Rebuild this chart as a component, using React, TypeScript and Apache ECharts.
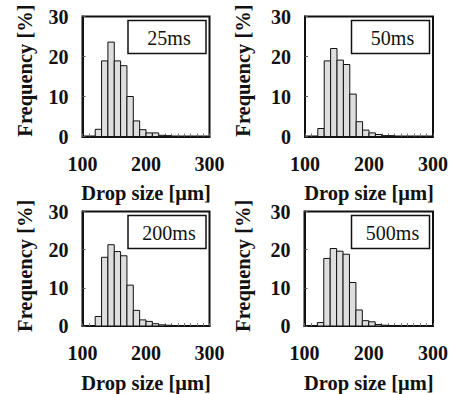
import React, { useEffect, useRef } from "react";
import * as echarts from "echarts";

const binStarts = [120, 130, 140, 150, 160, 170, 180, 190, 200, 210, 220, 230];
const binWidth = 10;
const panelLabels = ["25ms", "50ms", "200ms", "500ms"];
const freq25 = [1.8, 18.9, 23.6, 18.9, 17.7, 10.0, 3.9, 1.7, 0.9, 0.9, 0.3, 0.2];
const freq50 = [2.0, 18.9, 22.0, 19.1, 18.0, 10.6, 3.7, 1.6, 0.9, 0.5, 0.2, 0.2];
const freq200 = [2.5, 18.0, 21.3, 19.5, 18.4, 10.7, 4.1, 1.6, 1.2, 0.6, 0.3, 0.2];
const freq500 = [0.9, 17.7, 20.3, 19.6, 18.8, 11.4, 4.2, 1.4, 1.1, 0.4, 0.2, 0.1];
const xTicks = { min: 100, max: 300, interval: 100 };
const yTicks = { min: 0, max: 30, interval: 10 };
const xTitle = "Drop size [μm]";
const yTitle = "Frequency [%]";

const FONT = "Liberation Serif";

const grids = [
  { left: 82.5, top: 16.5, width: 127, height: 120 },
  { left: 305, top: 16.5, width: 128, height: 120 },
  { left: 82.5, top: 211.5, width: 127, height: 120.5 },
  { left: 304.5, top: 211.5, width: 128.5, height: 120.5 },
];

export default function App() {
  const ref = useRef<HTMLDivElement>(null);
  useEffect(() => {
    if (!ref.current) return;
    const chart = echarts.init(ref.current, null, { renderer: "svg" });
    const allData = [freq25, freq50, freq200, freq500];

    const xAxis = grids.map((_, i) => ({
      type: "value",
      gridIndex: i,
      min: xTicks.min,
      max: xTicks.max,
      interval: xTicks.interval,
      axisLine: { show: true, onZero: false, lineStyle: { color: "#111", width: 2 } },
      axisTick: { show: true, inside: true, length: 3, lineStyle: { color: "#555" } },
      minorTick: { show: true, splitNumber: 10, length: 3, lineStyle: { color: "#777" } },
      splitLine: { show: false },
      axisLabel: {
        margin: 17,
        fontFamily: FONT,
        fontWeight: "bold",
        fontSize: 20,
        color: "#111",
      },
      name: xTitle,
      nameLocation: "middle",
      nameGap: 46,
      nameTextStyle: { fontFamily: FONT, fontWeight: "bold", fontSize: 20.5, color: "#111" },
    }));

    const yAxis = grids.map((_, i) => ({
      type: "value",
      gridIndex: i,
      min: yTicks.min,
      max: yTicks.max,
      interval: yTicks.interval,
      axisLine: { show: true, lineStyle: { color: "#111", width: 2 } },
      axisTick: { show: true, inside: true, length: 3, lineStyle: { color: "#555" } },
      splitLine: { show: false },
      axisLabel: {
        margin: 14,
        fontFamily: FONT,
        fontWeight: "bold",
        fontSize: 20,
        color: "#111",
      },
    }));

    const series = allData.map((vals, i) => ({
      type: "custom",
      xAxisIndex: i,
      yAxisIndex: i,
      data: vals.map((v, k) => [binStarts[k], binStarts[k] + binWidth, v]),
      encode: { x: [0, 1], y: 2 },
      renderItem: (params: any, api: any) => {
        const p0 = api.coord([api.value(0), api.value(2)]);
        const p1 = api.coord([api.value(1), 0]);
        return {
          type: "rect",
          shape: { x: p0[0], y: p0[1], width: p1[0] - p0[0], height: p1[1] - p0[1] },
          style: { fill: "#dedede", stroke: "#111", lineWidth: 1 },
        };
      },
    }));

    const graphic: any[] = [];
    grids.forEach((g, i) => {
      const isLeftCol = i % 2 === 0;
      graphic.push({
        type: "text",
        x: isLeftCol ? 25 : 243,
        y: g.top + g.height / 2 - 6,
        rotation: Math.PI / 2,
        style: {
          text: yTitle,
          fontFamily: FONT,
          fontWeight: "bold",
          fontSize: 20.5,
          fill: "#111",
          align: "center",
          verticalAlign: "middle",
        },
      });
      const bw = 78;
      const bh = 33;
      const bx = g.left + g.width - 3.5 - bw;
      const by = g.top + 4;
      graphic.push({
        type: "rect",
        shape: { x: bx, y: by, width: bw, height: bh },
        style: { fill: "#fff", stroke: "#111", lineWidth: 1.5 },
        z: 10,
      });
      graphic.push({
        type: "text",
        x: bx + bw / 2 + 2,
        y: by + bh / 2 + 1,
        style: {
          text: panelLabels[i],
          fontFamily: FONT,
          fontSize: 20,
          fill: "#111",
          align: "center",
          verticalAlign: "middle",
        },
        z: 11,
      });
    });

    chart.setOption({
      animation: false,
      backgroundColor: "#fff",
      grid: grids.map((g) => ({
        ...g,
        show: true,
        borderColor: "#111",
        borderWidth: 2,
        backgroundColor: "transparent",
        containLabel: false,
      })),
      xAxis,
      yAxis,
      series,
      graphic,
    } as any);
    return () => chart.dispose();
  }, []);
  return (
    <div
      ref={ref}
      style={{ position: "fixed", left: 0, top: 0, width: 453, height: 394 }}
    />
  );
}
